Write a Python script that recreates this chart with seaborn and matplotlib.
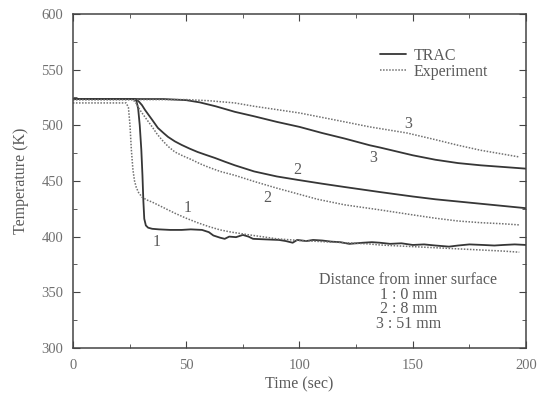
import numpy as np
import pandas as pd
import seaborn as sns
import matplotlib
matplotlib.use("Agg")
import matplotlib.pyplot as plt
from matplotlib.ticker import MultipleLocator

# ---- data ----
trac1_t = [0, 27, 28, 28.8, 29.5, 30.2, 30.7, 31.1, 31.5, 32.2, 33.2, 35, 38, 43, 48, 52, 57,
           60, 62, 65, 67, 69, 72, 75, 77.5, 79.5, 85, 91, 94, 97, 99, 103, 106, 110, 114, 118,
           122, 125, 128, 132, 135.5, 140, 145, 150, 155, 160, 166, 170, 175, 181, 186, 190, 195, 200]
trac1_T = [523.5, 523.5, 522, 515, 500, 478, 455, 432, 416, 410, 408, 407, 406.5, 406, 406, 406.5,
           406, 404, 401, 399, 398, 400, 399.5, 401.5, 400, 398, 397.5, 397, 396, 394.5, 397, 396,
           397, 396.5, 395.5, 395, 393.5, 394, 394.5, 395, 394.5, 393.5, 394, 392.5, 393, 392, 391,
           392, 393, 392.5, 392, 392.5, 393, 392.5]

exp1_t = [0, 23.5, 24.5, 25.2, 25.8, 26.5, 27.2, 28, 29, 30.5, 32.5, 35, 40, 45, 50, 55, 60, 65,
          70, 78, 85, 90, 100, 110, 120, 130, 135.5, 140, 150, 160, 170, 180, 190, 197]
exp1_T = [520, 520, 516, 500, 478, 460, 450, 444, 439.5, 435.5, 433, 431, 426, 421, 416.5, 412.5,
          409, 406, 404, 401.5, 399.5, 398, 396.5, 395.5, 394.5, 393.5, 392.5, 392, 391, 390, 389,
          388, 387, 386]

trac2_t = [0, 27.5, 29, 30.5, 31.8, 33.5, 35, 37.5, 40, 42, 45, 48, 51.5, 55, 58.5, 62.7, 67,
           71.5, 80, 90, 99, 110, 120, 135.5, 150, 160, 170, 180, 190, 200]
trac2_T = [523.5, 523.5, 521.5, 518, 513.8, 509, 504.8, 497.6, 493, 489.5, 485.5, 482.3, 479, 476,
           473.5, 470.6, 467.3, 464, 458.5, 454, 451, 447.5, 444.5, 440, 436, 433.5, 431.5, 429.5,
           427.5, 425.5]

exp2_t = [0, 26.5, 28, 29.5, 30.5, 33, 35, 37, 39.3, 42, 45, 48.5, 52.5, 56, 59.6, 65, 71.5, 80,
          90, 99, 108, 120, 135.5, 150, 160, 170, 180, 190, 197]
exp2_T = [523, 523, 519.5, 514, 511, 504, 498.5, 492.5, 486.8, 481, 476, 472.5, 469, 465.5, 462.5,
          458.5, 455, 449.5, 443.5, 438.5, 433.5, 428.5, 424, 419.5, 416.5, 414, 412.5, 411.5, 410.5]

trac3_t = [0, 40, 50, 56, 63, 71.5, 80, 90, 100, 110, 120, 131, 135.5, 150, 160, 170, 180, 190, 200]
trac3_T = [523.5, 523.5, 522.5, 520.5, 517, 512, 508, 503, 498.5, 493, 488, 482, 480, 473, 469,
           466, 464, 462.5, 461]

exp3_t = [0, 50, 60, 71.5, 80, 90, 100, 110, 120, 131, 135.5, 147.5, 160, 170, 180, 190, 197]
exp3_T = [523, 523, 522, 520, 517, 514, 511, 507, 503, 498.5, 497, 493, 487, 482, 477.5, 474, 471.5]

series = [
    ("TRAC", "1", trac1_t, trac1_T),
    ("Experiment", "1", exp1_t, exp1_T),
    ("TRAC", "2", trac2_t, trac2_T),
    ("Experiment", "2", exp2_t, exp2_T),
    ("TRAC", "3", trac3_t, trac3_T),
    ("Experiment", "3", exp3_t, exp3_T),
]

curve_labels = [("1", 37, 395), ("1", 50.8, 425.5), ("2", 99, 460), ("2", 85.6, 434.5),
                ("3", 132.5, 470.5), ("3", 148, 501)]
note_lines = ["Distance from inner surface", "1 : 0 mm", "2 : 8 mm", "3 : 51 mm"]

# ---- style ----
sns.set_style("ticks")
plt.rcParams["font.family"] = ["Liberation Serif", "DejaVu Serif"]
plt.rcParams["font.size"] = 11
txt_color = "#5a5a5a"
line_color = "#363636"
dot_color = "#707070"

fig = plt.figure(figsize=(5.44, 3.95), dpi=100)
ax = fig.add_axes([0.134, 0.119, 0.833, 0.846])

frames = []
for src, dist, t, T in series:
    frames.append(pd.DataFrame({"t": t, "T": T, "source": src, "dist": dist}))
df = pd.concat(frames, ignore_index=True)

first = {"TRAC": True, "Experiment": True}
for (src, dist), sub in df.groupby(["source", "dist"], sort=False):
    if src == "TRAC":
        kw = dict(color=line_color, linewidth=1.3, linestyle="-")
    else:
        kw = dict(color=dot_color, linewidth=1.1, linestyle=(0, (1, 1)))
    lab = src if first[src] else None
    first[src] = False
    sns.lineplot(data=sub, x="t", y="T", ax=ax, label=lab, estimator=None, sort=False, **kw)

for text, x, y in curve_labels:
    ax.text(x, y, text, ha="center", va="center", color=txt_color, fontsize=11.5)

ax.text(148, 368, "\n".join(note_lines), ha="center", va="top", multialignment="center",
        linespacing=0.88, color=txt_color, fontsize=11.5,
        transform=ax.transData)

ax.set_xlim(0, 200)
ax.set_ylim(300, 600)
ax.xaxis.set_major_locator(MultipleLocator(50))
ax.xaxis.set_minor_locator(MultipleLocator(25))
ax.yaxis.set_major_locator(MultipleLocator(50))
ax.yaxis.set_minor_locator(MultipleLocator(25))
ax.tick_params(which="both", direction="in", top=True, right=True, colors="#444444",
               labelcolor="#707070", labelsize=10.5)
ax.tick_params(axis="x", which="major", pad=8)
ax.tick_params(axis="y", which="major", pad=7)
ax.tick_params(which="major", length=5)
ax.tick_params(which="minor", length=3)
for s in ax.spines.values():
    s.set_color("#444444")
    s.set_linewidth(1.1)

ax.set_xlabel("Time (sec)", color=txt_color, fontsize=11.5, labelpad=3)
ax.set_ylabel("Temperature (K)", color=txt_color, fontsize=11.5, labelpad=9)

leg = ax.legend(loc="upper left", bbox_to_anchor=(0.66, 0.922), frameon=False,
                handlelength=1.6, handletextpad=0.5, labelspacing=0.0, borderpad=0,
                fontsize=11.5)
for t in leg.get_texts():
    t.set_color(txt_color)

fig.savefig("out.png", dpi=100)
